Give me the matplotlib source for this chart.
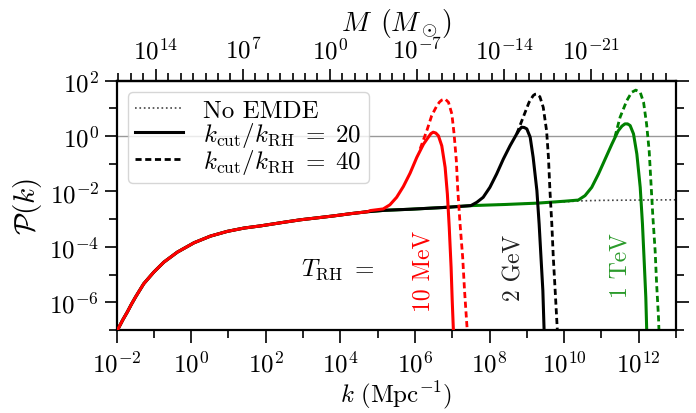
import numpy as np
import matplotlib
matplotlib.use("Agg")
import matplotlib.pyplot as plt
from matplotlib.lines import Line2D
from matplotlib.ticker import LogLocator, NullFormatter

plt.rcParams['font.family'] = 'serif'
plt.rcParams['font.serif'] = ['cmr10']
plt.rcParams['mathtext.fontset'] = 'cm'
plt.rcParams['axes.formatter.use_mathtext'] = True
plt.rcParams['font.size'] = 18
plt.rcParams['axes.unicode_minus'] = True

# values, as log10 k [Mpc^-1] and log10 P(k)
base_logk = [-2.00, -1.95, -1.83, -1.71, -1.60, -1.49, -1.27, -1.00, -0.73, -0.37, 0.08, 0.52,
             0.97, 1.42, 1.87, 2.49, 2.94, 3.39, 3.83, 4.28, 4.73, 5.18,
             5.89, 6.87, 7.50, 8.40, 9.29, 10.05, 10.41, 11.00, 12.00, 13.00]
base_logP = [-7.10, -6.94, -6.63, -6.35, -6.07, -5.81, -5.33, -4.91, -4.55, -4.19, -3.85, -3.61,
             -3.44, -3.32, -3.24, -3.11, -3.02, -2.95, -2.88, -2.80, -2.73, -2.68,
             -2.64, -2.57, -2.51, -2.47, -2.42, -2.37, -2.34, -2.32, -2.31, -2.30]

# T_RH = 10 MeV
red20_logk = [4.80, 5.15, 5.33, 5.51, 5.69, 5.87, 6.05, 6.23, 6.36, 6.43, 6.49, 6.56,
              6.63, 6.72, 6.81, 6.87, 6.92, 6.97, 7.00, 7.04]
red20_logP = [-2.69, -2.63, -2.48, -2.21, -1.82, -1.34, -0.77, -0.29, -0.04, 0.09, 0.14, 0.11,
              0.01, -0.35, -1.13, -2.09, -3.29, -4.74, -5.94, -7.30]
red40_logk = [6.14, 6.32, 6.45, 6.59, 6.66, 6.72, 6.81, 6.90, 6.99, 7.05, 7.11, 7.15,
              7.21, 7.28, 7.33, 7.39, 7.42]
red40_logP = [-0.46, 0.20, 0.74, 1.10, 1.23, 1.30, 1.34, 1.22, 0.80, 0.08, -0.88, -1.96,
              -3.17, -4.37, -5.57, -6.77, -7.30]

# T_RH = 2 GeV
blk20_logk = [7.66, 7.83, 8.01, 8.19, 8.37, 8.55, 8.73, 8.80, 8.86, 8.93, 9.00, 9.09,
              9.17, 9.27, 9.33, 9.38, 9.43, 9.47]
blk20_logP = [-2.39, -2.21, -1.85, -1.37, -0.83, -0.35, 0.08, 0.23, 0.32, 0.31, 0.26, -0.04,
              -0.77, -1.97, -3.17, -4.38, -5.58, -7.30]
blk40_logk = [8.73, 8.92, 9.06, 9.17, 9.22, 9.27, 9.35, 9.44, 9.53, 9.58, 9.62, 9.67,
              9.71, 9.76, 9.83]
blk40_logP = [0.08, 0.74, 1.22, 1.46, 1.51, 1.52, 1.42, 1.04, 0.19, -0.77, -1.97, -3.17,
              -4.38, -5.58, -7.30]

# T_RH = 1 TeV
grn20_logk = [10.02, 10.38, 10.56, 10.74, 10.92, 11.10, 11.28, 11.45, 11.55, 11.63, 11.70,
              11.77, 11.86, 11.95, 12.04, 12.10, 12.15, 12.19, 12.22]
grn20_logP = [-2.35, -2.31, -2.15, -1.85, -1.37, -0.83, -0.29, 0.19, 0.36, 0.44, 0.44,
              0.38, 0.08, -0.65, -1.85, -3.17, -4.62, -5.82, -7.30]
grn40_logk = [11.36, 11.50, 11.68, 11.81, 11.92, 12.04, 12.13, 12.21, 12.28, 12.33, 12.38,
              12.44, 12.48, 12.53, 12.55]
grn40_logP = [-0.04, 0.68, 1.28, 1.58, 1.66, 1.58, 1.22, 0.44, -0.53, -1.73, -2.93,
              -4.14, -5.34, -6.54, -7.30]

logk0 = 3.72  # M = 1 M_sun here, M ~ k^-3


def with_base(logk, logP):
    """prepend the no-EMDE part below the first point of a curve"""
    bk = np.array(base_logk)
    bp = np.array(base_logP)
    m = bk < logk[0]
    return 10**np.r_[bk[m], logk], 10**np.r_[bp[m], logP]


def k_to_M(k):
    k = np.clip(np.asarray(k, float), 1e-60, 1e60)
    return 10**(3 * (logk0 - np.log10(k)))


def M_to_k(M):
    M = np.clip(np.asarray(M, float), 1e-200, 1e200)
    return 10**(logk0 - np.log10(M) / 3)


fig = plt.figure(figsize=(6.96, 4.14), dpi=100)
ax = fig.add_axes([0.1674, 0.2005, 0.8039, 0.6022])

ax.axhline(1, color='#999999', lw=1.0, zorder=0.5)
ax.plot(10**np.array(base_logk), 10**np.array(base_logP), ':', color='#444444', lw=1.2, zorder=1)

dash = (2.2, 1.3)
for lk20, lp20, lk40, lp40, c, z in [
        (grn20_logk, grn20_logP, grn40_logk, grn40_logP, 'green', 2),
        (blk20_logk, blk20_logP, blk40_logk, blk40_logP, 'black', 3),
        (red20_logk, red20_logP, red40_logk, red40_logP, 'red', 4)]:
    ax.plot(10**np.array(lk40), 10**np.array(lp40), color=c, lw=2.0, dashes=dash, zorder=z)
    k, p = with_base(lk20, lp20)
    ax.plot(k, p, color=c, lw=2.2, zorder=z + 0.5)

ax.set_xscale('log')
ax.set_yscale('log')
ax.set_xlim(1e-2, 1e13)
ax.set_ylim(1e-7, 1e2)

ax.set_xticks([10.0**e for e in range(-2, 13, 2)])
ax.set_xticks([10.0**e for e in range(-1, 14, 2)], minor=True)
ax.set_yticks([10.0**e for e in range(-6, 3, 2)])
ax.set_yticks([10.0**e for e in range(-7, 2, 2)], minor=True)
ax.xaxis.set_minor_formatter(NullFormatter())
ax.yaxis.set_minor_formatter(NullFormatter())
ax.tick_params(which='both', direction='out', right=True, width=1.2)
ax.tick_params(which='major', length=9)
ax.tick_params(axis='x', which='major', pad=6)
ax.tick_params(which='minor', length=6)
for s in ax.spines.values():
    s.set_linewidth(1.6)

ax.set_xlabel(r'$k\ (\mathrm{Mpc}^{-1})$', labelpad=1)
ax.set_ylabel(r'$\mathcal{P}(k)$', fontsize=21, labelpad=4)

# mass scale on top
secax = ax.secondary_xaxis('top', functions=(k_to_M, M_to_k))
secax.set_xticks([1e14, 1e7, 1e0, 1e-7, 1e-14, 1e-21])
secax.xaxis.set_minor_locator(LogLocator(base=10, subs=(1.0,), numticks=200))
secax.xaxis.set_minor_formatter(NullFormatter())
secax.tick_params(which='both', direction='out', width=1.2)
secax.tick_params(which='major', length=9)
secax.tick_params(which='minor', length=6)
secax.spines['top'].set_linewidth(1.6)
secax.set_xlabel(r'$M\ \,(M_\odot)$', fontsize=20, labelpad=5)

ax.text(10**3.94, 10**-4.80, r'$T_{\rm RH}\ =$', ha='center', va='center')
ax.text(10**6.23, 10**-4.83, '10 MeV', color='red', rotation=90, ha='center', va='center', fontsize=17)
ax.text(10**8.68, 10**-4.73, '2 GeV', color='#222222', rotation=90, ha='center', va='center', fontsize=17)
ax.text(10**11.50, 10**-4.62, '1 TeV', color='#2a9a2a', rotation=90, ha='center', va='center', fontsize=17)

handles = [Line2D([], [], color='#444444', ls=':', lw=1.2),
           Line2D([], [], color='black', lw=2.2),
           Line2D([], [], color='black', lw=2.0, dashes=dash)]
labels = ['No EMDE', r'$k_{\rm cut}/k_{\rm RH}\;=\;20$', r'$k_{\rm cut}/k_{\rm RH}\;=\;40$']
ax.legend(handles, labels, loc='upper left', fontsize=18, labelspacing=-0.08,
          handlelength=1.9, handletextpad=0.8, borderpad=0.3, borderaxespad=0.45)

fig.savefig('out.png', dpi=100)
